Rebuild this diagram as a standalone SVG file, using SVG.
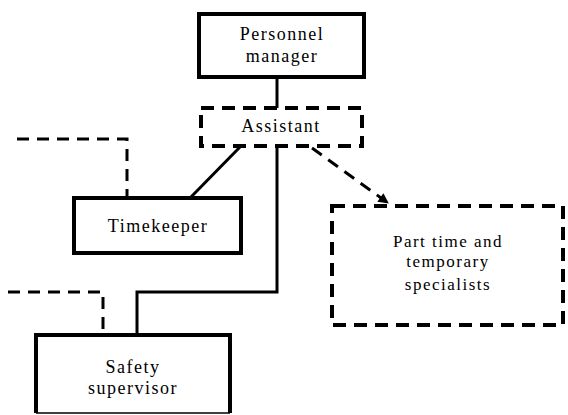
<svg xmlns="http://www.w3.org/2000/svg" width="568" height="415" viewBox="0 0 568 415">
  <style>
    .box { fill: #fff; stroke: #000; stroke-width: 4; }
    .dbox { fill: #fff; stroke: #000; stroke-width: 4; stroke-dasharray: 13 8; }
    .line { fill: none; stroke: #000; stroke-width: 3; }
    .dline { fill: none; stroke: #000; stroke-width: 3; stroke-dasharray: 12 8; }
    text { font-family: "Liberation Serif", "Times New Roman", serif; font-size: 18px; letter-spacing: 1.5px; fill: #000; text-anchor: middle; }
  </style>
  <defs>
    <marker id="head" viewBox="0 0 10 10" refX="9" refY="5" markerWidth="4" markerHeight="3.5" orient="auto">
      <path d="M0,0 L10,5 L0,10 Z" fill="#000"/>
    </marker>
  </defs>
  <rect width="568" height="415" fill="#fff"/>

  <g id="connectors">
    <line class="line" x1="277" y1="77" x2="277" y2="108"/>
    <line class="line" x1="240" y1="147" x2="190" y2="198"/>
    <polyline class="line" points="277,146 277,292 137,292 137,334"/>
    <polyline class="dline" points="17,139 127,139 127,198"/>
    <polyline class="dline" points="8,292 103,292 103,334"/>
    <line class="dline" x1="312" y1="148" x2="388" y2="203" marker-end="url(#head)"/>
  </g>

  <g id="personnel-manager">
    <rect class="box" x="199" y="14" width="165" height="63"/>
    <text x="282" y="40">Personnel</text>
    <text x="282" y="62">manager</text>
  </g>

  <g id="assistant">
    <rect class="dbox" x="201" y="108" width="161" height="38"/>
    <text x="281" y="132">Assistant</text>
  </g>

  <g id="timekeeper">
    <rect class="box" x="74" y="198" width="167" height="55"/>
    <text x="158" y="232">Timekeeper</text>
  </g>

  <g id="part-time-specialists">
    <rect class="dbox" x="332" y="206" width="231" height="119"/>
    <text x="448" y="247" style="font-size:17px">Part time and</text>
    <text x="448" y="267" style="font-size:17px">temporary</text>
    <text x="448" y="290" style="font-size:17px">specialists</text>
  </g>

  <g id="safety-supervisor">
    <path d="M36,413 L36,335 L230,335 L230,413" fill="#fff" stroke="#000" stroke-width="4"/>
    <line x1="36" y1="413" x2="230" y2="413" stroke="#000" stroke-width="1.5"/>
    <text x="133" y="373">Safety</text>
    <text x="133" y="394">supervisor</text>
  </g>
</svg>
